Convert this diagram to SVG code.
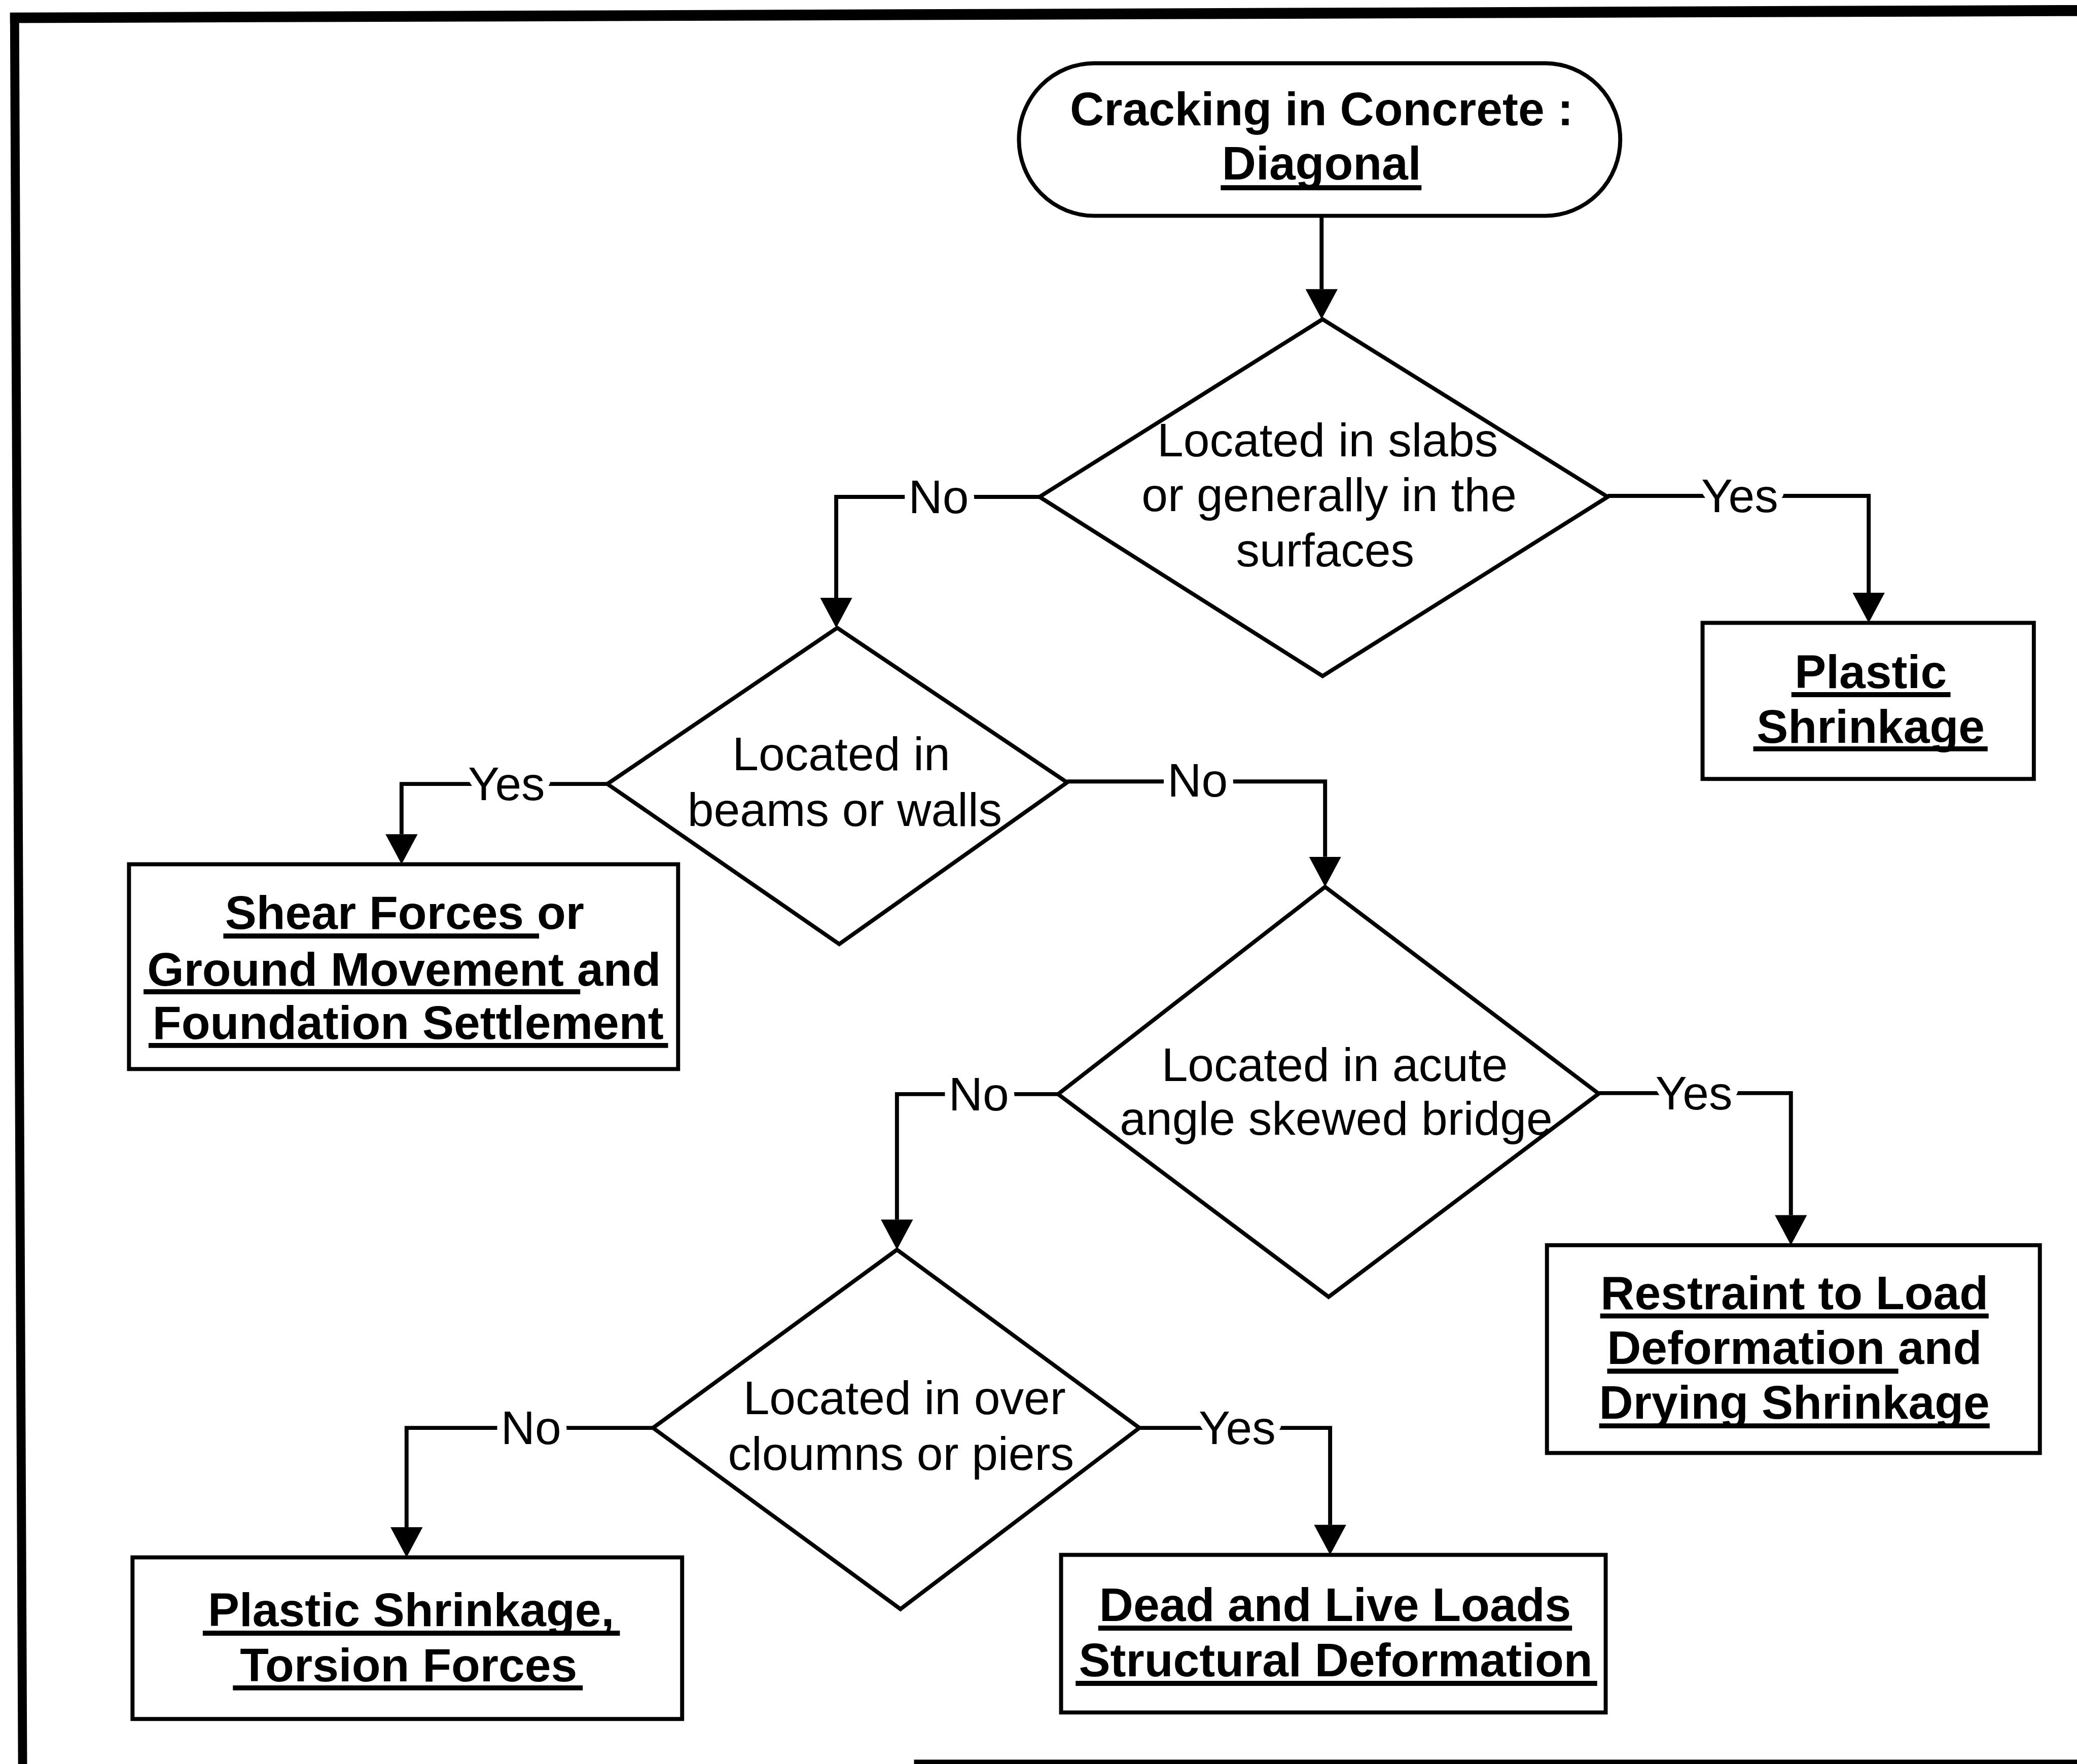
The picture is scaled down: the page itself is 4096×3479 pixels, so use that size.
<svg xmlns="http://www.w3.org/2000/svg" width="4096" height="3479" viewBox="0 0 4096 3479">
  <defs>
    <style>
      .shape { fill: #fff; stroke: #000; stroke-width: 8; stroke-linejoin: miter; }
      .wire { fill: none; stroke: #000; stroke-width: 8; }
      .uline { stroke: #000; stroke-width: 10; }
      text { font-family: "Liberation Sans", Arial, sans-serif; font-size: 94px; fill: #000; }
      .q { text-anchor: middle; }
      .b { font-weight: bold; text-anchor: middle; }
      .lbl { text-anchor: middle; stroke: #fff; stroke-width: 30; paint-order: stroke; stroke-linejoin: round; }
    </style>
    <marker id="arrow" viewBox="0 0 60 64" refX="0" refY="32" markerWidth="60" markerHeight="64" markerUnits="userSpaceOnUse" orient="auto">
      <path d="M0,0 L60,32 L0,64 z" fill="#000"/>
    </marker>
  </defs>
  <rect width="4096" height="3479" fill="#fff"/>
  <g transform="scale(0.98985)">
    <!-- page frame -->
    <g id="frame" fill="#000">
      <polygon points="20,25 4138,10 4138,32 20,46"/>
      <polygon points="20,26 38,26 54,3515 36,3515"/>
      <rect x="1821" y="3506" width="2317" height="12"/>
    </g>

    <!-- connectors -->
    <g id="connectors">
      <path class="wire" marker-end="url(#arrow)" d="M2633,430 V576"/>
      <path class="wire" marker-end="url(#arrow)" d="M2071,990 H1666 V1191"/>
      <path class="wire" marker-end="url(#arrow)" d="M3203,988 H3723 V1181"/>
      <path class="wire" marker-end="url(#arrow)" d="M1210,1562 H800 V1662"/>
      <path class="wire" marker-end="url(#arrow)" d="M2126,1557 H2640 V1707"/>
      <path class="wire" marker-end="url(#arrow)" d="M2108,2180 H1787 V2430"/>
      <path class="wire" marker-end="url(#arrow)" d="M3185,2178 H3568 V2421"/>
      <path class="wire" marker-end="url(#arrow)" d="M1301,2845 H810 V3043"/>
      <path class="wire" marker-end="url(#arrow)" d="M2270,2845 H2650 V3038"/>
      <text class="lbl" x="1870" y="1022">No</text>
      <text class="lbl" x="3466" y="1020">Yes</text>
      <text class="lbl" x="1009" y="1594">Yes</text>
      <text class="lbl" x="2386" y="1587">No</text>
      <text class="lbl" x="1950" y="2212">No</text>
      <text class="lbl" x="3375" y="2210">Yes</text>
      <text class="lbl" x="1058" y="2877">No</text>
      <text class="lbl" x="2465" y="2877">Yes</text>
    </g>

    <!-- start terminal -->
    <g id="start">
      <rect class="shape" x="2030" y="126" width="1198" height="304" rx="150" ry="152"/>
      <text class="b" x="2633" y="250">Cracking in Concrete :</text>
      <text class="b" x="2633" y="358">Diagonal</text>
      <line class="uline" x1="2432" y1="374" x2="2832" y2="374"/>
    </g>

    <!-- decision: slabs / surfaces -->
    <g id="dec-slabs">
      <polygon class="shape" points="2635,636 3203,990 2635,1347 2071,990"/>
      <text class="q" x="2645" y="909">Located in slabs</text>
      <text class="q" x="2648" y="1018">or generally in the</text>
      <text class="q" x="2640" y="1128">surfaces</text>
    </g>

    <!-- result: plastic shrinkage -->
    <g id="res-plastic">
      <rect class="shape" x="3392" y="1241" width="660" height="311"/>
      <text class="b" x="3727" y="1371">Plastic</text>
      <line class="uline" x1="3569" y1="1384" x2="3886" y2="1384"/>
      <text class="b" x="3727" y="1480">Shrinkage</text>
      <line class="uline" x1="3493" y1="1492" x2="3960" y2="1492"/>
    </g>

    <!-- decision: beams / walls -->
    <g id="dec-beams">
      <polygon class="shape" points="1668,1251 2126,1559 1672,1881 1210,1562"/>
      <text class="q" x="1676" y="1535">Located in</text>
      <text class="q" x="1683" y="1646">beams or walls</text>
    </g>

    <!-- result: shear / ground movement -->
    <g id="res-shear">
      <rect class="shape" x="257" y="1722" width="1094" height="408"/>
      <text class="b" x="806" y="1851">Shear Forces or</text>
      <line class="uline" x1="445" y1="1865" x2="1074" y2="1865"/>
      <text class="b" x="805" y="1964">Ground Movement and</text>
      <line class="uline" x1="286" y1="1976" x2="1156" y2="1976"/>
      <text class="b" x="813" y="2070">Foundation Settlement</text>
      <line class="uline" x1="296" y1="2083" x2="1331" y2="2083"/>
    </g>

    <!-- decision: skewed bridge -->
    <g id="dec-bridge">
      <polygon class="shape" points="2640,1767 3185,2179 2647,2584 2108,2180"/>
      <text class="q" x="2659" y="2154">Located in acute</text>
      <text class="q" x="2662" y="2261">angle skewed bridge</text>
    </g>

    <!-- result: restraint -->
    <g id="res-restraint">
      <rect class="shape" x="3082" y="2481" width="982" height="414"/>
      <text class="b" x="3575" y="2608">Restraint to Load</text>
      <line class="uline" x1="3188" y1="2622" x2="3962" y2="2622"/>
      <text class="b" x="3575" y="2718">Deformation and</text>
      <line class="uline" x1="3202" y1="2732" x2="3782" y2="2732"/>
      <text class="b" x="3575" y="2827">Drying Shrinkage</text>
      <line class="uline" x1="3186" y1="2841" x2="3964" y2="2841"/>
    </g>

    <!-- decision: columns / piers -->
    <g id="dec-piers">
      <polygon class="shape" points="1787,2490 2270,2845 1794,3206 1301,2845"/>
      <text class="q" x="1802" y="2818">Located in over</text>
      <text class="q" x="1795" y="2929">cloumns or piers</text>
    </g>

    <!-- result: plastic shrinkage, torsion -->
    <g id="res-torsion">
      <rect class="shape" x="264" y="3103" width="1095" height="322"/>
      <text class="b" x="819" y="3240">Plastic Shrinkage,</text>
      <line class="uline" x1="404" y1="3254" x2="1235" y2="3254"/>
      <text class="b" x="814" y="3350">Torsion Forces</text>
      <line class="uline" x1="464" y1="3363" x2="1161" y2="3363"/>
    </g>

    <!-- result: dead and live loads -->
    <g id="res-loads">
      <rect class="shape" x="2114" y="3098" width="1085" height="314"/>
      <text class="b" x="2660" y="3230">Dead and Live Loads</text>
      <line class="uline" x1="2188" y1="3244" x2="3132" y2="3244"/>
      <text class="b" x="2661" y="3340">Structural Deformation</text>
      <line class="uline" x1="2143" y1="3354" x2="3182" y2="3354"/>
    </g>
  </g>
</svg>
